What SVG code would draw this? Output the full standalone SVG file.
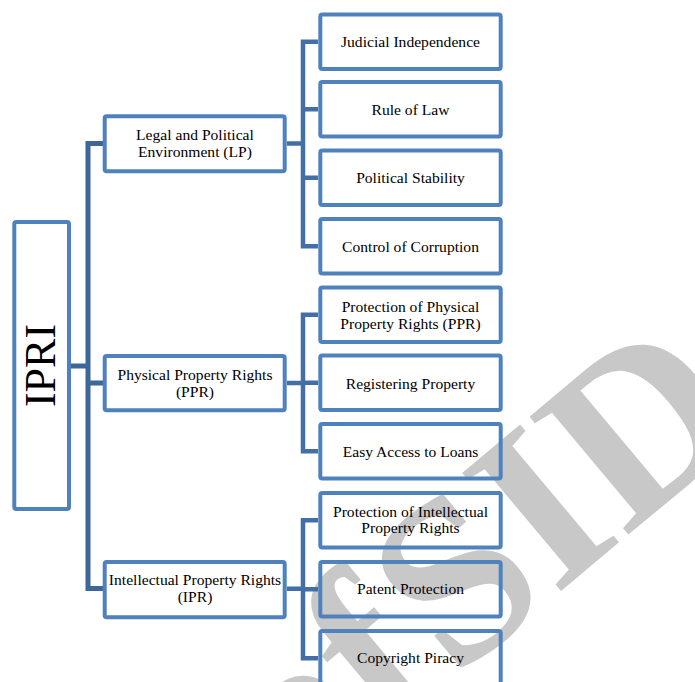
<svg xmlns="http://www.w3.org/2000/svg" width="695" height="682" viewBox="0 0 695 682">
<style>
.box{fill:none;stroke:#4f81bd;stroke-width:4;}
.t{font-family:"Liberation Serif","Times New Roman",serif;font-size:15.6px;fill:#000;text-anchor:middle;}
.c{fill:none;stroke:#436fa6;stroke-width:4.5;stroke-linejoin:miter;}
.trunk{fill:none;stroke:#3d6699;stroke-width:5;}
.wm{font-family:"Liberation Serif","Times New Roman",serif;font-size:235px;font-weight:bold;fill:#c8c8c8;}
</style>
<rect width="695" height="682" fill="#fff"/>
<g id="watermark" transform="translate(455,680) rotate(-40)">
<text class="wm" x="0" y="0">SID</text>
<text class="wm" x="-10" y="0" text-anchor="end">of</text>
</g>
<g id="connectors">
<path class="trunk" d="M71,366 H88 M104,143.5 H88 V588.5 H104 M88,383 H104"/>
<path class="c" d="M287,143.5 H303 M318,41.75 H303 V246.25 H318 M303,109.25 H318 M303,177.75 H318"/>
<path class="c" d="M287,383 H303 M318,314.75 H303 V451.25 H318 M303,382.75 H318"/>
<path class="c" d="M287,588.7 H303 M318,520.25 H303 V658.25 H318 M303,589.25 H318"/>
</g>
<g id="IPRI">
<rect class="box" x="14.3" y="222" width="54.7" height="287" rx="2"/>
<text transform="translate(55,365.5) rotate(-90)" x="0" y="0" style="font-family:'Liberation Serif','Times New Roman',serif;font-size:44px;text-anchor:middle;fill:#000">IPRI</text>
</g>
<g id="LP">
<rect class="box" x="104.7" y="116.3" width="180" height="55" rx="2"/>
<text class="t" x="195" y="140">Legal and Political</text>
<text class="t" x="195" y="156.7">Environment (LP)</text>
</g>
<g id="PPR">
<rect class="box" x="104.7" y="356" width="180" height="54.3" rx="2"/>
<text class="t" x="195" y="380">Physical Property Rights</text>
<text class="t" x="195" y="396.7">(PPR)</text>
</g>
<g id="IPR">
<rect class="box" x="104.7" y="562" width="180" height="55.3" rx="2"/>
<text class="t" x="195" y="585">Intellectual Property Rights</text>
<text class="t" x="195" y="602.3">(IPR)</text>
</g>
<g id="judicial">
<rect class="box" x="320.3" y="14.5" width="180.4" height="54.5" rx="2"/>
<text class="t" x="410.5" y="47">Judicial Independence</text>
</g>
<g id="rule">
<rect class="box" x="320.3" y="82" width="180.4" height="54.5" rx="2"/>
<text class="t" x="410.5" y="115">Rule of Law</text>
</g>
<g id="stability">
<rect class="box" x="320.3" y="150.5" width="180.4" height="54.5" rx="2"/>
<text class="t" x="410.5" y="183.3">Political Stability</text>
</g>
<g id="corruption">
<rect class="box" x="320.3" y="219" width="180.4" height="54.5" rx="2"/>
<text class="t" x="410.5" y="251.7">Control of Corruption</text>
</g>
<g id="protPPR">
<rect class="box" x="320.3" y="287.5" width="180.4" height="54.5" rx="2"/>
<text class="t" x="410.5" y="311.7">Protection of Physical</text>
<text class="t" x="410.5" y="329">Property Rights (PPR)</text>
</g>
<g id="registering">
<rect class="box" x="320.3" y="355.5" width="180.4" height="54.5" rx="2"/>
<text class="t" x="410.5" y="389">Registering Property</text>
</g>
<g id="loans">
<rect class="box" x="320.3" y="424" width="180.4" height="54.5" rx="2"/>
<text class="t" x="410.5" y="456.7">Easy Access to Loans</text>
</g>
<g id="protIPR">
<rect class="box" x="320.3" y="493" width="180.4" height="54.5" rx="2"/>
<text class="t" x="410.5" y="516.7">Protection of Intellectual</text>
<text class="t" x="410.5" y="533.3">Property Rights</text>
</g>
<g id="patent">
<rect class="box" x="320.3" y="562" width="180.4" height="54.5" rx="2"/>
<text class="t" x="410.5" y="594">Patent Protection</text>
</g>
<g id="copyright">
<rect class="box" x="320.3" y="631" width="180.4" height="54.5" rx="2"/>
<text class="t" x="410.5" y="663.3">Copyright Piracy</text>
</g>
</svg>
